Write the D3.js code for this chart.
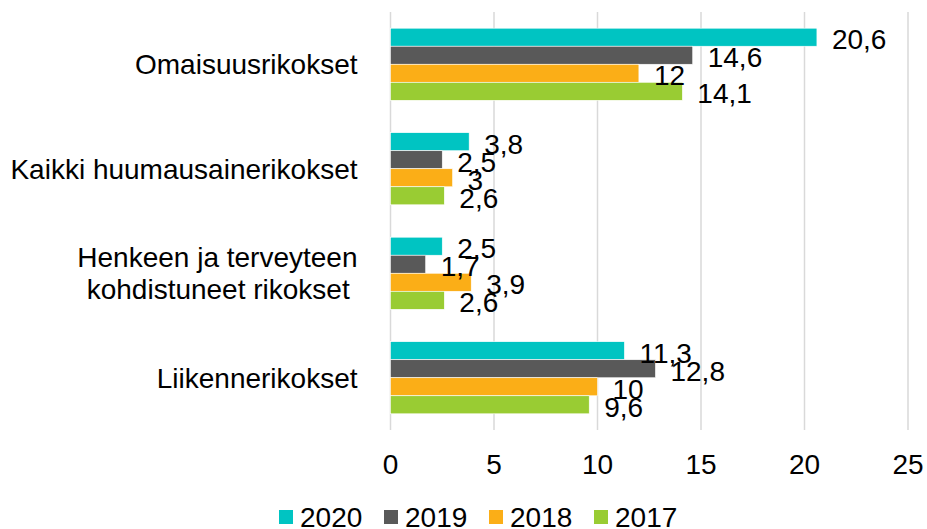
<!DOCTYPE html>
<html>
<head>
<meta charset="utf-8">
<script src="https://cdn.jsdelivr.net/npm/d3@7"></script>
<style>
  body { margin: 0; background: #fff; }
  text { font-family: "Liberation Sans", Arial, sans-serif; fill: #000; }
</style>
</head>
<body>
<div id="chart"></div>
<script>
// data
var categories = ["Omaisuusrikokset", "Kaikki huumausainerikokset", "Henkeen ja terveyteen\nkohdistuneet rikokset ", "Liikennerikokset"];
var years = ["2020", "2019", "2018", "2017"];
var colors = ["#00C4C2", "#595959", "#FBAE17", "#99CC33"];
var values2020 = [20.6, 3.8, 2.5, 11.3];
var values2019 = [14.6, 2.5, 1.7, 12.8];
var values2018 = [12, 3, 3.9, 10];
var values2017 = [14.1, 2.6, 2.6, 9.6];
var xTicks = [0, 5, 10, 15, 20, 25];

var series = [values2020, values2019, values2018, values2017];

var W = 927, H = 529;
var margin = {top: 12, right: 19, bottom: 99, left: 390.5};
var width = W - margin.left - margin.right,
    height = H - margin.top - margin.bottom;
var fs = 28;

var svg = d3.select("#chart").append("svg")
    .attr("width", W)
    .attr("height", H);

var g = svg.append("g")
    .attr("transform", "translate(" + margin.left + "," + margin.top + ")");

var x = d3.scaleLinear().domain([0, 25]).range([0, width]);
var y = d3.scaleBand().domain(categories).range([0, height])
    .paddingInner(0.31).paddingOuter(0.155);
var y1 = d3.scaleBand().domain(years).range([0, y.bandwidth()]);

// gridlines
g.selectAll(".grid").data(xTicks).enter().append("line")
    .attr("x1", function(d) { return x(d); })
    .attr("x2", function(d) { return x(d); })
    .attr("y1", 0).attr("y2", height)
    .attr("stroke", "#d9d9d9").attr("stroke-width", 1.5);

// tick labels
g.selectAll(".tick").data(xTicks).enter().append("text")
    .attr("x", function(d) { return x(d); })
    .attr("y", height + 44)
    .attr("text-anchor", "middle")
    .style("font-size", fs + "px")
    .text(function(d) { return d; });

// bars
var groups = g.selectAll(".grp").data(categories).enter().append("g")
    .attr("transform", function(d) { return "translate(0," + y(d) + ")"; });

years.forEach(function(yr, s) {
  groups.append("rect")
      .attr("x", 0)
      .attr("y", y1(yr))
      .attr("width", function(d, i) { return x(series[s][i]); })
      .attr("height", y1.bandwidth())
      .attr("fill", colors[s])
      .attr("stroke", "#fff").attr("stroke-width", 0.6);
});

// value labels
years.forEach(function(yr, s) {
  groups.append("text")
      .attr("x", function(d, i) { return x(series[s][i]) + 15; })
      .attr("y", y1(yr) + y1.bandwidth() / 2 + 2)
      .attr("dy", "0.35em")
      .style("font-size", fs + "px")
      .text(function(d, i) { return String(series[s][i]).replace(".", ","); });
});

// category labels
categories.forEach(function(c) {
  var lines = c.split("\n");
  var cy = y(c) + y.bandwidth() / 2;
  var t = g.append("text")
      .attr("text-anchor", "end")
      .style("font-size", fs + "px")
      .style("white-space", "pre");
  lines.forEach(function(l, i) {
    t.append("tspan")
        .attr("x", -33)
        .attr("y", cy + (i - (lines.length - 1) / 2) * 32)
        .attr("dy", "0.35em")
        .text(l);
  });
});

// legend
var itemW = 105;
var legend = svg.append("g")
    .attr("transform", "translate(" + (279) + "," + 510 + ")");
years.forEach(function(yr, i) {
  legend.append("rect")
      .attr("x", i * itemW).attr("y", 0)
      .attr("width", 14).attr("height", 14)
      .attr("fill", colors[i]);
  legend.append("text")
      .attr("x", i * itemW + 21).attr("y", 7)
      .attr("dy", "0.37em")
      .style("font-size", fs + "px")
      .text(yr);
});
</script>
</body>
</html>
